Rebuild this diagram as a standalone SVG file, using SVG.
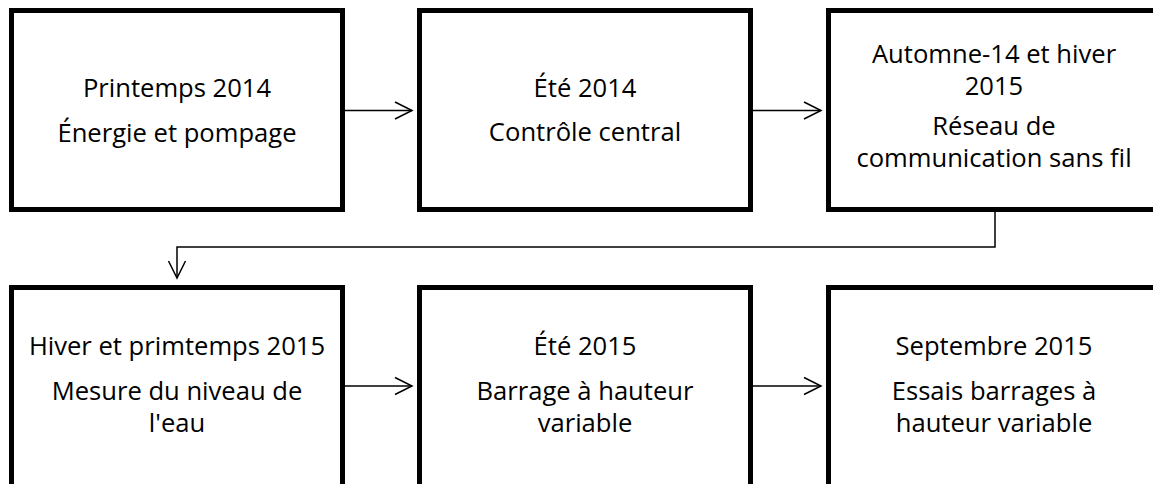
<svg xmlns="http://www.w3.org/2000/svg" width="1153" height="484" viewBox="0 0 1153 484">
  <style>
    .box { fill: #ffffff; stroke: #000000; stroke-width: 5; }
    .lbl { font-family: "Open Sans", "Noto Sans", sans-serif; font-size: 25.6px; fill: #000000; text-anchor: middle; }
    .wire { fill: none; stroke: #000000; stroke-width: 1.5; }
  </style>
  <defs>
    <marker id="open-arrow" markerUnits="userSpaceOnUse" viewBox="0 0 20 20" refX="18" refY="10" markerWidth="20" markerHeight="20" orient="auto">
      <path d="M1,1.5 L18,10 L1,18.5" fill="none" stroke="#000000" stroke-width="1.5"/>
    </marker>
  </defs>
  <rect width="1153" height="484" fill="#ffffff"/>

  <!-- top row -->
  <g id="printemps-2014">
    <rect class="box" x="11.5" y="10.5" width="331" height="199"/>
    <text class="lbl" x="177" y="97">Printemps 2014</text>
    <text class="lbl" x="177" y="142">Énergie et pompage</text>
  </g>
  <g id="ete-2014">
    <rect class="box" x="419.5" y="10.5" width="331" height="199"/>
    <text class="lbl" x="585" y="97">Été 2014</text>
    <text class="lbl" x="585" y="141">Contrôle central</text>
  </g>
  <g id="automne-hiver">
    <rect class="box" x="828.5" y="10.5" width="331" height="199"/>
    <text class="lbl" x="994" y="63">Automne-14 et hiver</text>
    <text class="lbl" x="994" y="95">2015</text>
    <text class="lbl" x="994" y="135">Réseau de</text>
    <text class="lbl" x="994" y="167">communication sans fil</text>
  </g>

  <!-- bottom row -->
  <g id="hiver-printemps-2015">
    <rect class="box" x="11.5" y="287.5" width="331" height="199"/>
    <text class="lbl" x="177" y="355">Hiver et primtemps 2015</text>
    <text class="lbl" x="177" y="400">Mesure du niveau de</text>
    <text class="lbl" x="177" y="432">l'eau</text>
  </g>
  <g id="ete-2015">
    <rect class="box" x="419.5" y="287.5" width="331" height="199"/>
    <text class="lbl" x="585" y="355">Été 2015</text>
    <text class="lbl" x="585" y="400">Barrage à hauteur</text>
    <text class="lbl" x="585" y="432">variable</text>
  </g>
  <g id="septembre-2015">
    <rect class="box" x="828.5" y="287.5" width="331" height="199"/>
    <text class="lbl" x="994" y="355">Septembre 2015</text>
    <text class="lbl" x="994" y="400">Essais barrages à</text>
    <text class="lbl" x="994" y="432">hauteur variable</text>
  </g>

  <!-- connectors -->
  <g id="connectors">
    <line class="wire" x1="345" y1="110.5" x2="412" y2="110.5" marker-end="url(#open-arrow)"/>
    <line class="wire" x1="753" y1="110.5" x2="821" y2="110.5" marker-end="url(#open-arrow)"/>
    <polyline class="wire" points="995,212 995,247 177,247 177,278" marker-end="url(#open-arrow)"/>
    <line class="wire" x1="345" y1="386" x2="412" y2="386" marker-end="url(#open-arrow)"/>
    <line class="wire" x1="753" y1="386" x2="821" y2="386" marker-end="url(#open-arrow)"/>
  </g>
</svg>
